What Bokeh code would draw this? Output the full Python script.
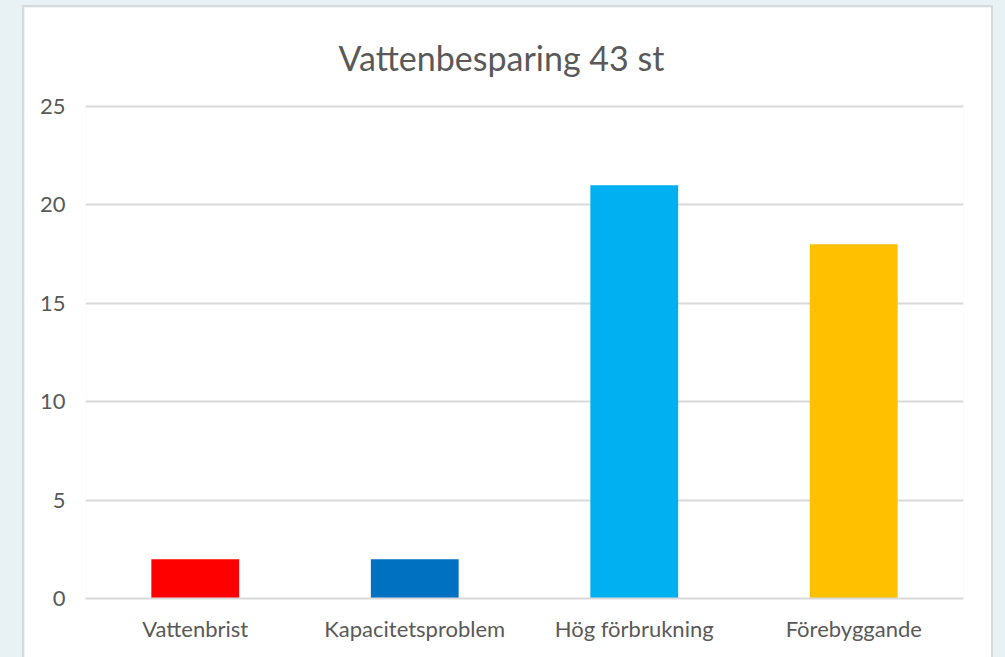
from bokeh.plotting import figure
from bokeh.models import Range1d, FixedTicker, ColumnDataSource
from bokeh.embed import file_html
from bokeh.resources import INLINE

categories = ["Vattenbrist", "Kapacitetsproblem", "Hög förbrukning", "Förebyggande"]
values = [2, 2, 21, 18]
colors = ["#FF0000", "#0070C0", "#00B0F0", "#FFC000"]
title_text = "Vattenbesparing 43 st"
y_ticks = [0, 5, 10, 15, 20, 25]

FONT = "Lato"

src = ColumnDataSource(dict(cat=categories, val=values, col=colors))

p = figure(x_range=categories, y_range=Range1d(0, 25.1),
           width=971, height=652, output_backend="svg", toolbar_location=None,
           min_border_left=61, min_border_right=32, min_border_top=96, min_border_bottom=61)
p.styles = {"border": "2px solid #d9d9d9", "border-bottom": "none"}
p.vbar(x="cat", top="val", width=0.4, color="col", source=src, line_color=None)

p.title.text = title_text
p.title.align = "left"
p.title.offset = 253
p.title.standoff = 54
p.title.text_font = FONT
p.title.text_font_size = "34px"
p.title.text_color = "#595959"
p.title.text_font_style = "normal"

p.outline_line_color = None
p.background_fill_color = "white"
p.border_fill_color = "white"

p.xgrid.grid_line_color = None
p.ygrid.grid_line_color = "#d9d9d9"
p.ygrid.grid_line_width = 2
p.yaxis.ticker = FixedTicker(ticks=y_ticks)
p.yaxis.axis_line_color = None
p.yaxis.major_tick_line_color = None
p.yaxis.minor_tick_line_color = None
p.yaxis.major_label_text_font = FONT
p.yaxis.major_label_text_font_size = "22px"
p.yaxis.major_label_text_color = "#595959"
p.yaxis.major_label_standoff = 14

p.xaxis.axis_line_color = "#d9d9d9"
p.xaxis.axis_line_width = 2
p.xaxis.major_tick_line_color = None
p.xaxis.minor_tick_line_color = None
p.xaxis.major_label_text_font = FONT
p.xaxis.major_label_text_font_size = "22px"
p.xaxis.major_label_text_color = "#595959"
p.xaxis.major_label_standoff = 10

html = file_html(p, INLINE)
css = ("<style>html,body{margin:0 !important;padding:0;background:#e8f1f4 !important;overflow:hidden}"
       "body{padding:5px 0 0 22px !important;}</style></head>")
html = html.replace("</head>", css, 1)
open("out.html", "w").write(html)
